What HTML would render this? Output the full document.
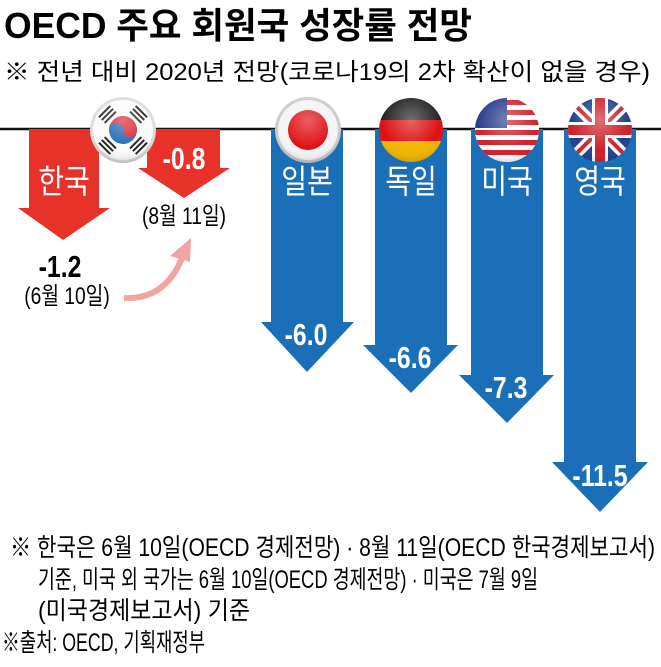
<!DOCTYPE html>
<html><head><meta charset="utf-8"><style>
html,body{margin:0;padding:0;background:#fff;}
svg{display:block;}
text{font-family:"Liberation Sans","Noto Sans CJK KR",sans-serif;}
</style></head><body>
<svg width="661" height="667" viewBox="0 0 661 667" xmlns="http://www.w3.org/2000/svg">
<defs>
<radialGradient id="gl" cx="50%" cy="35%" r="65%">
<stop offset="0" stop-color="#fff" stop-opacity="0.35"/>
<stop offset="0.7" stop-color="#fff" stop-opacity="0"/>
<stop offset="1" stop-color="#000" stop-opacity="0.15"/>
</radialGradient>
<clipPath id="c1"><circle cx="0" cy="0" r="32"/></clipPath>
</defs>
<text x="4" y="38" font-size="36" font-weight="bold" textLength="468" lengthAdjust="spacingAndGlyphs">OECD 주요 회원국 성장률 전망</text>
<text x="4" y="80" font-size="24" textLength="646" lengthAdjust="spacingAndGlyphs">※ 전년 대비 2020년 전망(코로나19의 2차 확산이 없을 경우)</text>
<line x1="0" y1="129" x2="661" y2="129" stroke="#111" stroke-width="2.5"/>

<polygon points="29,129 99,129 99,208 110,208 63,240 18,208 29,208" fill="#e63228"/>
<polygon points="147,129 220,129 220,168 230,168 184,198 138,168 147,168" fill="#e63228"/>
<polygon points="271,129 343,129 343,322 354,322 307,372 261,322 271,322" fill="#1a6fb8"/>
<polygon points="375,129 447,129 447,345 458,345 411,393 363,345 375,345" fill="#1a6fb8"/>
<polygon points="471,129 543,129 543,375 554,375 507,423 459,375 471,375" fill="#1a6fb8"/>
<polygon points="564,129 636,129 636,462 648,462 600,512 552,462 564,462" fill="#1a6fb8"/>

<g transform="translate(123,130)">
<circle r="33" fill="#ddd"/><circle r="30" fill="#fafafa"/>
<circle r="14" fill="#1b66b5"/><path d="M-14,0 A14,14 0 0 1 14,0 A7,7 0 0 1 0,0 A7,7 0 0 0 -14,0Z" fill="#d9242f"/>
<g fill="#222">
<g transform="rotate(-45) translate(0,-23)"><rect x="-8" y="-4" width="16" height="2"/><rect x="-8" y="0" width="16" height="2"/><rect x="-8" y="4" width="16" height="2"/></g>
<g transform="rotate(45) translate(0,-23)"><rect x="-8" y="-4" width="16" height="2"/><rect x="-8" y="0" width="16" height="2"/><rect x="-8" y="4" width="16" height="2"/></g>
<g transform="rotate(135) translate(0,-23)"><rect x="-8" y="-4" width="16" height="2"/><rect x="-8" y="0" width="16" height="2"/><rect x="-8" y="4" width="16" height="2"/></g>
<g transform="rotate(-135) translate(0,-23)"><rect x="-8" y="-4" width="16" height="2"/><rect x="-8" y="0" width="16" height="2"/><rect x="-8" y="4" width="16" height="2"/></g>
</g>
<circle r="33" fill="url(#gl)"/></g>
<g transform="translate(308,130)">
<circle r="33" fill="#ccc"/><circle r="30" fill="#f4f4f4"/><circle r="20" fill="#de0a10"/><circle r="33" fill="url(#gl)"/></g>
<g transform="translate(411,130)" clip-path="url(#c1)">
<rect x="-33" y="-33" width="66" height="23" fill="#222"/><rect x="-33" y="-10" width="66" height="21" fill="#dd1010"/><rect x="-33" y="11" width="66" height="23" fill="#f2b400"/><circle r="33" fill="url(#gl)"/></g>
<g transform="translate(507,130)" clip-path="url(#c1)">
<rect x="-33" y="-33" width="66" height="66" fill="#fff"/>
<g fill="#d0202a"><rect x="-33" y="-30" width="66" height="5"/><rect x="-33" y="-20" width="66" height="5"/><rect x="-33" y="-10" width="66" height="5"/><rect x="-33" y="0" width="66" height="5"/><rect x="-33" y="10" width="66" height="5"/><rect x="-33" y="20" width="66" height="5"/></g>
<rect x="-33" y="-33" width="33" height="31" fill="#2a3d8f"/><circle r="33" fill="url(#gl)"/></g>
<g transform="translate(600,130)" clip-path="url(#c1)">
<rect x="-33" y="-33" width="66" height="66" fill="#1f3f8f"/>
<g stroke="#fff" stroke-width="11"><line x1="-33" y1="-33" x2="33" y2="33"/><line x1="33" y1="-33" x2="-33" y2="33"/></g>
<g stroke="#d0202a" stroke-width="4"><line x1="-33" y1="-33" x2="33" y2="33"/><line x1="33" y1="-33" x2="-33" y2="33"/></g>
<rect x="-33" y="-8" width="66" height="16" fill="#fff"/><rect x="-8" y="-33" width="16" height="66" fill="#fff"/>
<rect x="-33" y="-5" width="66" height="10" fill="#d0202a"/><rect x="-5" y="-33" width="10" height="66" fill="#d0202a"/>
<circle r="33" fill="url(#gl)"/></g>

<g fill="#fff" font-size="33" text-anchor="middle">
<text transform="translate(64,193) scale(0.85,1)">한국</text>
<text transform="translate(307,193) scale(0.85,1)">일본</text>
<text transform="translate(411,193) scale(0.85,1)">독일</text>
<text transform="translate(507,193) scale(0.85,1)">미국</text>
<text transform="translate(600,193) scale(0.85,1)">영국</text>
</g>
<g fill="#fff" font-size="31" font-weight="bold" text-anchor="middle">
<text transform="translate(184,169) scale(0.8,1)">-0.8</text>
<text transform="translate(306,345) scale(0.8,1)">-6.0</text>
<text transform="translate(410,368) scale(0.8,1)">-6.6</text>
<text transform="translate(506,398) scale(0.8,1)">-7.3</text>
<text transform="translate(600,486) scale(0.8,1)">-11.5</text>
</g>
<text transform="translate(60,277) scale(0.8,1)" font-size="31" font-weight="bold" text-anchor="middle">-1.2</text>
<text transform="translate(67,304) scale(0.8,1)" font-size="24" text-anchor="middle">(6월 10일)</text>
<text transform="translate(184,224) scale(0.8,1)" font-size="24" text-anchor="middle">(8월 11일)</text>
<path d="M124,298 Q165,300 182,258" stroke="#f2a5a0" stroke-width="6" fill="none"/>
<polygon points="191,238 170,256 190,262" fill="#f2a5a0"/>

<g font-size="25">
<text x="10" y="556" textLength="645" lengthAdjust="spacingAndGlyphs">※ 한국은 6월 10일(OECD 경제전망) · 8월 11일(OECD 한국경제보고서)</text>
<text x="38" y="588" textLength="500" lengthAdjust="spacingAndGlyphs">기준, 미국 외 국가는 6월 10일(OECD 경제전망) · 미국은 7월 9일</text>
<text x="38" y="619" textLength="212" lengthAdjust="spacingAndGlyphs">(미국경제보고서) 기준</text>
<text x="2" y="651" textLength="203" lengthAdjust="spacingAndGlyphs">※출처: OECD, 기획재정부</text>
</g>
</svg>
</body></html>
